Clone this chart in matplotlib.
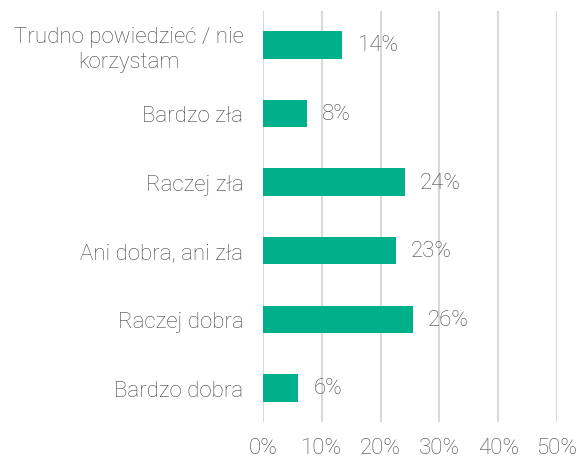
import matplotlib
matplotlib.use('Agg')
import matplotlib.pyplot as plt

# Data (top to bottom as in the chart)
categories = ['Trudno powiedzieć / nie\nkorzystam', 'Bardzo zła', 'Raczej zła',
              'Ani dobra, ani zła', 'Raczej dobra', 'Bardzo dobra']
values = [13.5, 7.5, 24.1, 22.6, 25.5, 6.0]
labels = ['14%', '8%', '24%', '23%', '26%', '6%']
ticks = [0, 10, 20, 30, 40, 50]
tick_labels = ['0%', '10%', '20%', '30%', '40%', '50%']

bar_color = '#00B08B'
text_color = '#474747'
grid_color = '#D9D9D9'

plt.rcParams['font.family'] = ['Roboto', 'DejaVu Sans']
plt.rcParams['font.weight'] = 'light'
fs = 16

fig = plt.figure(figsize=(5.79, 4.6), dpi=100)
ax = fig.add_axes([0.454, 0.080, 0.508, 0.895])

pos = list(range(len(categories)))[::-1]
ax.barh(pos, values, height=0.4, color=bar_color, zorder=3)

for p, v, lab in zip(pos, values, labels):
    ax.text(v + 2.6, p, lab, va='center', ha='left', fontsize=fs,
            color=text_color, fontweight='light')

ax.set_xlim(0, 50)
ax.set_ylim(-0.5, len(categories) - 0.5)
ax.set_xticks(ticks)
ax.set_xticklabels(tick_labels, fontsize=fs, color=text_color, fontweight='light')
ax.set_yticks(pos)
ax.set_yticklabels(categories, fontsize=fs, color=text_color, fontweight='light',
                   ha='right', multialignment='center', linespacing=1.2)
ax.tick_params(axis='y', length=0, pad=14)
ax.tick_params(axis='x', length=0, pad=11)

ax.grid(axis='x', color=grid_color, linewidth=1.5, zorder=0)
for s in ax.spines.values():
    s.set_visible(False)

fig.savefig('out.png', dpi=100)
